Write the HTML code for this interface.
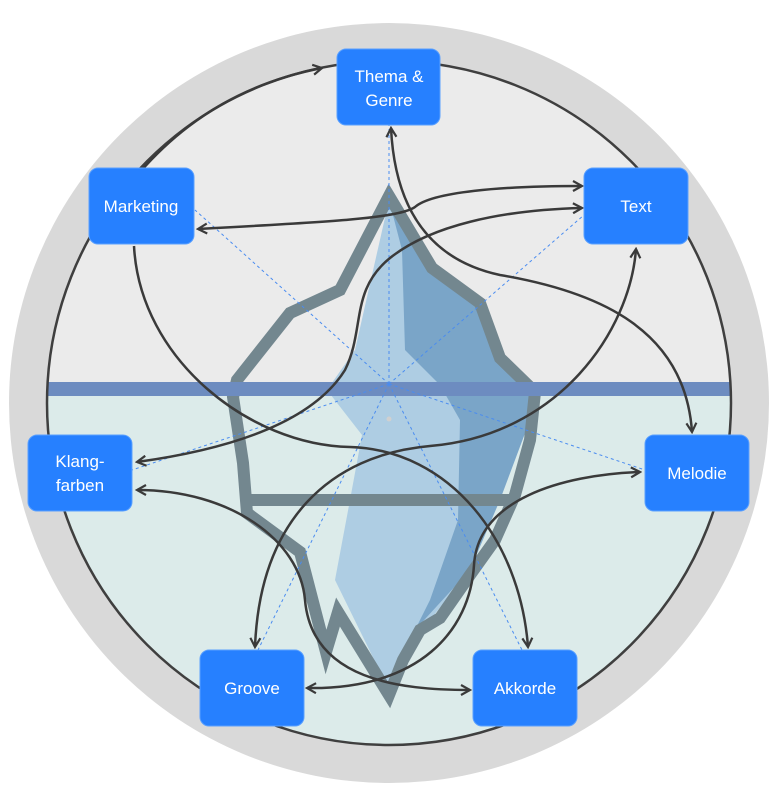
<!DOCTYPE html>
<html><head><meta charset="utf-8"><style>
html,body{margin:0;padding:0;background:#fff;}
svg{display:block;}
text{font-family:"Liberation Sans",sans-serif;fill:#fff;font-size:17px;}
</style></head><body>
<svg width="779" height="788" viewBox="0 0 779 788" xmlns="http://www.w3.org/2000/svg">
<defs>
<marker id="ah" viewBox="0 0 12 12" refX="10" refY="6" markerWidth="12" markerHeight="12" markerUnits="userSpaceOnUse" orient="auto-start-reverse">
<path d="M1,1 L10,6 L1,11" fill="none" stroke="#3a3a3a" stroke-width="2.2"/>
</marker>
<clipPath id="ic"><circle cx="389" cy="403" r="342"/></clipPath>
</defs>
<circle cx="389" cy="403" r="380" fill="#d9d9d9"/>
<circle cx="389" cy="403" r="342" fill="#ebebeb"/>
<g clip-path="url(#ic)">
<rect x="0" y="389" width="779" height="420" fill="#dcebea"/>
</g>
<!-- iceberg fills -->
<polygon points="389,200 355,350 327,390 362,435 350,500 335,580 389,690 430,620 470,570 500,490 495,410 480,380 435,320 405,240" fill="#aecde3"/>
<polygon points="389,200 402,250 405,350 440,385 460,420 458,520 430,600 415,630 470,570 500,500 530,420 532,390 505,360 480,305 432,270" fill="#7aa5c8"/>
<!-- iceberg outline -->
<polyline points="247,500 515,500" stroke="#73878f" stroke-width="12" fill="none"/>
<polygon points="389,196 432,268 480,303 500,358 535,392 530,440 515,495 495,540 470,575 440,618 420,630 403,660 389,695 338,612 326,652 300,552 247,513 243,463 233,397 237,380 290,313 340,290" fill="none" stroke="#73878f" stroke-width="12" stroke-linejoin="miter"/>
<!-- water line -->
<rect x="47" y="382" width="684" height="14" fill="#6d8cc0"/>
<!-- inner circle -->
<circle cx="389" cy="403" r="342" fill="none" stroke="#3f3f3f" stroke-width="2.5"/>
<!-- dashed spokes -->
<g stroke="#4a8cf0" stroke-width="1" stroke-dasharray="3,3" fill="none">
<line x1="389" y1="384" x2="389" y2="125"/>
<line x1="389" y1="384" x2="195" y2="210"/>
<line x1="389" y1="384" x2="584" y2="215"/>
<line x1="389" y1="384" x2="132" y2="470"/>
<line x1="389" y1="384" x2="645" y2="470"/>
<line x1="389" y1="384" x2="258" y2="650"/>
<line x1="389" y1="384" x2="522" y2="650"/>
</g>
<circle cx="389" cy="419" r="2.5" fill="#d0d0d0"/>
<!-- connectors -->
<g fill="none" stroke="#3a3a3a" stroke-width="2.5">
<path d="M140,172 C190,115 250,82 322,68" marker-end="url(#ah)"/>
<path d="M198,229 C330,222 400,218 415,207 C432,192 500,186 582,186" marker-start="url(#ah)" marker-end="url(#ah)"/>
<path d="M137,462 C260,445 320,410 345,370 C365,330 350,290 390,258 C430,226 500,210 582,208" marker-start="url(#ah)" marker-end="url(#ah)"/>
<path d="M391,128 C395,210 430,260 500,275 C600,292 685,330 692,432" marker-start="url(#ah)" marker-end="url(#ah)"/>
<path d="M134,246 C140,360 250,445 350,447 C450,450 520,540 528,647" marker-end="url(#ah)"/>
<path d="M255,647 C260,520 330,455 430,446 C560,435 630,330 636,249" marker-start="url(#ah)" marker-end="url(#ah)"/>
<path d="M137,490 C230,490 300,540 305,600 C312,680 400,690 470,690" marker-start="url(#ah)" marker-end="url(#ah)"/>
<path d="M307,688 C420,690 470,630 474,565 C478,500 560,475 640,472" marker-start="url(#ah)" marker-end="url(#ah)"/>
</g>
<!-- nodes -->
<g fill="#2680ff" stroke="#5aa0ff" stroke-width="1">
<rect x="337" y="49" width="103" height="76" rx="9"/>
<rect x="89" y="168" width="105" height="76" rx="9"/>
<rect x="584" y="168" width="104" height="76" rx="9"/>
<rect x="28" y="435" width="104" height="76" rx="9"/>
<rect x="645" y="435" width="104" height="76" rx="9"/>
<rect x="200" y="650" width="104" height="76" rx="9"/>
<rect x="473" y="650" width="104" height="76" rx="9"/>
</g>
<g text-anchor="middle">
<text x="389" y="82">Thema &amp;</text>
<text x="389" y="106">Genre</text>
<text x="141" y="212">Marketing</text>
<text x="636" y="212">Text</text>
<text x="80" y="467">Klang-</text>
<text x="80" y="491">farben</text>
<text x="697" y="479">Melodie</text>
<text x="252" y="694">Groove</text>
<text x="525" y="694">Akkorde</text>
</g>
</svg>
</body></html>
